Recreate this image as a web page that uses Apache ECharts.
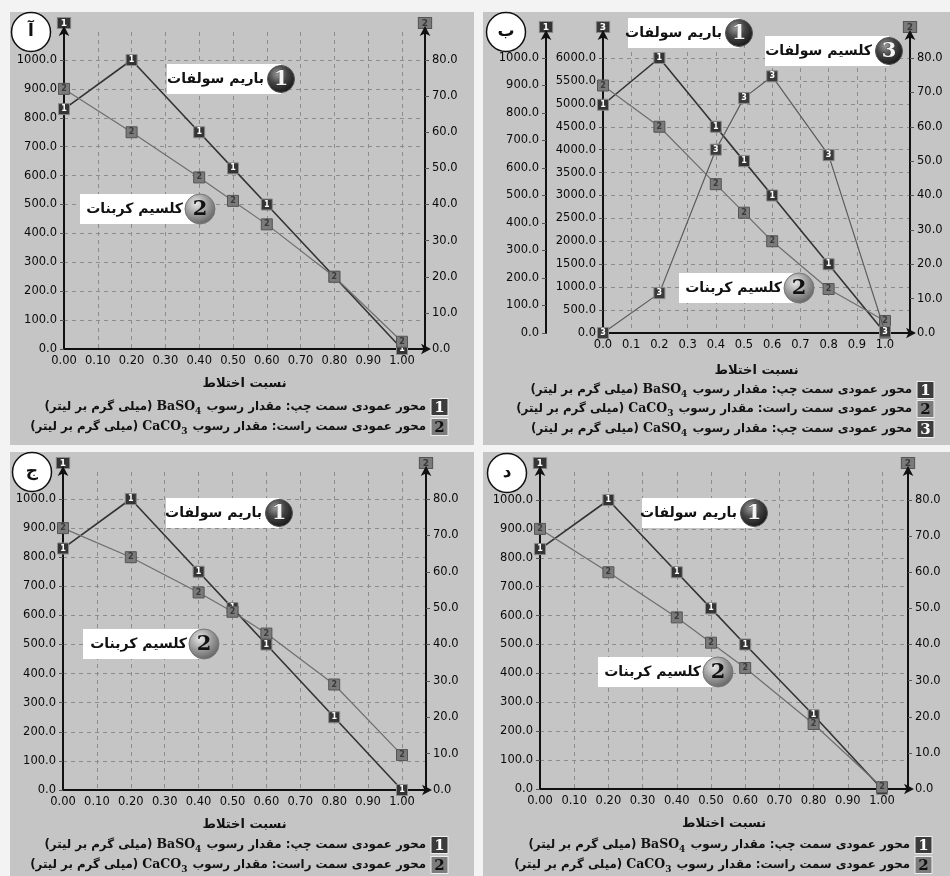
<!DOCTYPE html>
<html>
<head>
<meta charset="utf-8">
<script src="https://cdn.jsdelivr.net/npm/echarts@6/dist/echarts.min.js"></script>
<style>
  html, body { margin: 0; padding: 0; background: #f3f3f3; }
  #chart { width: 950px; height: 876px; }
</style>
</head>
<body>
<div id="chart"></div>
<script>
// mixing ratio on the x axis (same for every panel)
const mixRatio = [0, 0.2, 0.4, 0.5, 0.6, 0.8, 1.0];

// panel A
const baso4A = [830, 1000, 750, 625, 500, 250, 0];
const caco3A = [72, 60, 47.5, 41, 34.5, 20, 2];
// panel B
const baso4B = [830, 1000, 750, 625, 500, 250, 0];
const caco3B = [72, 60, 43.3, 35, 26.7, 12.8, 3.5];
const caso4B = [0, 870, 4000, 5130, 5600, 3880, 30];
// panel C
const baso4C = [830, 1000, 750, 625, 500, 250, 0];
const caco3C = [72, 64, 54.3, 49, 43, 29, 9.6];
// panel D
const baso4D = [830, 1000, 750, 625, 500, 255, 0];
const caco3D = [72, 60, 47.5, 40.5, 33.5, 18, 0.5];

const panelLetters = ['آ', 'ب', 'ج', 'د'];
const xAxisTitle = 'نسبت اختلاط';
const calloutNames = { 1: 'باریم سولفات', 2: 'کلسیم کربنات', 3: 'کلسیم سولفات' };
const legendLines = {
  1: ['محور عمودی سمت چپ: مقدار رسوب', 'BaSO', '4'],
  2: ['محور عمودی سمت راست: مقدار رسوب', 'CaCO', '3'],
  3: ['محور عمودی سمت چپ: مقدار رسوب', 'CaSO', '4'],
};
const unitText = '(میلی گرم بر لیتر)';

const FONT = 'DejaVu Sans';
const SERIF = 'DejaVu Serif';

// colours per series number
const STYLE = {
  1: { line: '#333333', fill: '#343434', border: '#8a8a8a', text: '#ffffff' },
  2: { line: '#6e6e6e', fill: '#7a7a7a', border: '#555555', text: '#3a3a3a' },
  3: { line: '#5a5a5a', fill: '#3a3a3a', border: '#8a8a8a', text: '#ffffff' },
};

const panels = [
  {
    box: [10, 12, 464, 433], circle: [31, 32], dec: 2, nameGap: 28,
    lay: { x0: 64, x1: 402, xR: 425, y0: 349, y1000: 60, top: 32 },
    series: [{ n: 1, data: baso4A, axis: 'left' }, { n: 2, data: caco3A, axis: 'right' }],
    callouts: [{ n: 1, cx: 281, cy: 79, left: 167 }, { n: 2, cx: 200, cy: 209, left: 80 }],
    legend: { boxX: 431, ys: [407, 427], nums: [1, 2] },
  },
  {
    box: [483, 12, 467, 433], circle: [506, 32], dec: 1, nameGap: 31,
    lay: { x0: 603, x1: 885, xR: 910, y0: 333, y1000: 58, top: 36 },
    series: [{ n: 1, data: baso4B, axis: 'left1' }, { n: 2, data: caco3B, axis: 'right' }, { n: 3, data: caso4B, axis: 'left3' }],
    callouts: [{ n: 1, cx: 739, cy: 33, left: 628 }, { n: 3, cx: 889, cy: 51, left: 765 }, { n: 2, cx: 799, cy: 288, left: 679 }],
    legend: { boxX: 917, ys: [390, 409, 429], nums: [1, 2, 3] },
  },
  {
    box: [10, 452, 464, 424], circle: [32, 472], dec: 2, nameGap: 28,
    lay: { x0: 63, x1: 402, xR: 426, y0: 790, y1000: 499, top: 472 },
    series: [{ n: 1, data: baso4C, axis: 'left' }, { n: 2, data: caco3C, axis: 'right' }],
    callouts: [{ n: 1, cx: 279, cy: 513, left: 166 }, { n: 2, cx: 204, cy: 644, left: 83 }],
    legend: { boxX: 431, ys: [845, 865], nums: [1, 2] },
  },
  {
    box: [483, 452, 467, 424], circle: [507, 473], dec: 2, nameGap: 28,
    lay: { x0: 540, x1: 882, xR: 908, y0: 789, y1000: 500, top: 472 },
    series: [{ n: 1, data: baso4D, axis: 'left' }, { n: 2, data: caco3D, axis: 'right' }],
    callouts: [{ n: 1, cx: 754, cy: 513, left: 642 }, { n: 2, cx: 718, cy: 672, left: 598 }],
    legend: { boxX: 915, ys: [845, 865], nums: [1, 2] },
  },
];

const dashed = { show: true, lineStyle: { color: '#8c8c8c', type: [4, 4], width: 1 }, showMaxLine: false, showMinLine: false };
const axisLineStyle = { show: true, symbol: ['none', 'arrow'], symbolSize: [8, 10], symbolOffset: [0, 6], lineStyle: { color: '#111', width: 2 } };
const labelFont = { fontFamily: FONT, fontSize: 11.5, color: '#0a0a0a' };

function axisName(n) {
  const s = STYLE[n];
  return {
    name: String(n), nameLocation: 'end', nameGap: 4,
    nameTextStyle: {
      fontFamily: FONT, fontSize: 9, fontWeight: 'bold', color: s.text,
      backgroundColor: s.fill, borderColor: s.border, borderWidth: 1,
      padding: [1, 3, 0, 3], align: 'center',
    },
  };
}

function yAxisDef(gi, top, step, factor, pos, offset, n, split) {
  return Object.assign({
    type: 'value', gridIndex: gi, position: pos, offset: offset,
    min: 0, max: top * factor, interval: step,
    axisLine: axisLineStyle,
    axisTick: { show: true, length: 4, lineStyle: { color: '#555' } },
    axisLabel: Object.assign({ margin: 7, showMaxLabel: false, formatter: v => (v > top ? '' : v.toFixed(1)) }, labelFont),
    splitLine: split ? dashed : { show: false },
  }, axisName(n));
}

const grids = [], xAxes = [], yAxes = [], series = [], graphics = [];

panels.forEach((p, gi) => {
  const L = p.lay;
  const factor = (L.y0 - L.top) / (L.y0 - L.y1000);
  grids.push({ left: L.x0, top: L.top, width: L.xR - L.x0, height: L.y0 - L.top, containLabel: false });
  xAxes.push({
    type: 'value', gridIndex: gi, min: 0, max: (L.xR - L.x0) / (L.x1 - L.x0), interval: 0.1,
    name: xAxisTitle, nameLocation: 'middle', nameGap: p.nameGap,
    nameTextStyle: { fontFamily: FONT, fontSize: 13, fontWeight: 'bold', color: '#111' },
    axisLine: axisLineStyle,
    axisTick: { show: false },
    axisLabel: Object.assign({ margin: 6, showMaxLabel: false, formatter: v => (v > 1.0001 ? '' : v.toFixed(p.dec)) }, labelFont),
    splitLine: dashed,
  });
  const axisIdx = {};
  if (gi === 1) {
    axisIdx.left3 = yAxes.length;
    yAxes.push(yAxisDef(gi, 6000, 500, factor, 'left', 0, 3, true));
    axisIdx.left1 = yAxes.length;
    yAxes.push(yAxisDef(gi, 1000, 100, factor, 'left', 57, 1, false));
  } else {
    axisIdx.left = yAxes.length;
    yAxes.push(yAxisDef(gi, 1000, 100, factor, 'left', 0, 1, true));
  }
  axisIdx.right = yAxes.length;
  yAxes.push(yAxisDef(gi, 80, 10, factor, 'right', 0, 2, false));

  p.series.forEach(s => {
    const st = STYLE[s.n];
    series.push({
      type: 'line', xAxisIndex: gi, yAxisIndex: axisIdx[s.axis],
      data: mixRatio.map((x, i) => [x, s.data[i]]),
      symbol: 'rect', symbolSize: 11, clip: false,
      lineStyle: { color: st.line, width: s.n === 1 ? 1.6 : 1.2 },
      itemStyle: { color: st.fill, borderColor: st.border, borderWidth: 1 },
      label: { show: true, position: 'inside', formatter: String(s.n), fontFamily: FONT, fontSize: 8, fontWeight: 'bold', color: st.text },
      emphasis: { disabled: true },
      z: 2 + s.n,
    });
  });

  // panel background
  graphics.push({ type: 'rect', shape: { x: p.box[0], y: p.box[1], width: p.box[2], height: p.box[3] }, style: { fill: '#c5c5c5' }, z: -10 });
  // panel letter
  graphics.push({ type: 'circle', shape: { cx: p.circle[0], cy: p.circle[1], r: 19.5 }, style: { fill: '#fff', stroke: '#111', lineWidth: 1.5 }, z: 60 });
  graphics.push({ type: 'text', x: p.circle[0], y: p.circle[1], style: { text: panelLetters[gi], font: `bold 17px "${FONT}"`, fill: '#111', align: 'center', verticalAlign: 'middle' }, z: 61 });

  // callouts
  p.callouts.forEach(c => {
    graphics.push({ type: 'rect', shape: { x: c.left, y: c.cy - 15, width: c.cx - c.left, height: 30 }, style: { fill: '#fff' }, z: 50 });
    graphics.push({ type: 'text', x: c.cx - 17, y: c.cy, style: { text: calloutNames[c.n], font: `bold 14px "${FONT}"`, fill: '#111', align: 'right', verticalAlign: 'middle' }, z: 51 });
    const dark = c.n !== 2;
    graphics.push({
      type: 'circle', shape: { cx: c.cx, cy: c.cy, r: dark ? 13.5 : 15 },
      style: {
        fill: new echarts.graphic.RadialGradient(0.38, 0.32, 0.75, dark
          ? [{ offset: 0, color: '#9a9a9a' }, { offset: 0.45, color: '#444' }, { offset: 1, color: '#111' }]
          : [{ offset: 0, color: '#e8e8e8' }, { offset: 0.5, color: '#9c9c9c' }, { offset: 1, color: '#5c5c5c' }]),
        stroke: dark ? '#555' : '#777', lineWidth: 1,
      }, z: 52,
    });
    graphics.push({ type: 'text', x: c.cx, y: c.cy + 1, style: { text: String(c.n), font: `bold 21px "${SERIF}"`, fill: dark ? '#f4f4f4' : '#111', stroke: dark ? '#222' : null, lineWidth: dark ? 0.6 : 0, align: 'center', verticalAlign: 'middle' }, z: 53 });
  });

  // legend lines
  p.legend.nums.forEach((n, i) => {
    const y = p.legend.ys[i];
    graphics.push({ type: 'rect', shape: { x: p.legend.boxX, y: y - 8.5, width: 17, height: 17 }, style: { fill: n === 2 ? '#7c7c7c' : '#3c3c3c', stroke: '#eee', lineWidth: 1 }, z: 40 });
    graphics.push({ type: 'text', x: p.legend.boxX + 8.5, y: y + 1, style: { text: String(n), font: `bold 15px "${SERIF}"`, fill: n === 2 ? '#111' : '#fff', align: 'center', verticalAlign: 'middle' }, z: 41 });
    const parts = legendLines[n];
    graphics.push({
      type: 'text', x: p.legend.boxX - 5, y: y,
      style: {
        text: `{p|${unitText} }{f|${parts[1]}}{s|${parts[2]}}{p| ${parts[0]}}`,
        align: 'right', verticalAlign: 'middle',
        rich: {
          p: { fontFamily: FONT, fontSize: 11.8, fontWeight: 'bold', fill: '#111', lineHeight: 18 },
          f: { fontFamily: SERIF, fontSize: 12.5, fontWeight: 'bold', fill: '#111', lineHeight: 18 },
          s: { fontFamily: SERIF, fontSize: 9, fontWeight: 'bold', fill: '#111', lineHeight: 18, verticalAlign: 'bottom', padding: [0, 1, 0, 0] },
        },
      }, z: 40,
    });
  });
});

const chart = echarts.init(document.getElementById('chart'), null, { renderer: 'canvas' });
chart.setOption({
  backgroundColor: '#f3f3f3',
  animation: false,
  grid: grids,
  xAxis: xAxes,
  yAxis: yAxes,
  series: series,
  graphic: { elements: graphics },
});
</script>
</body>
</html>
